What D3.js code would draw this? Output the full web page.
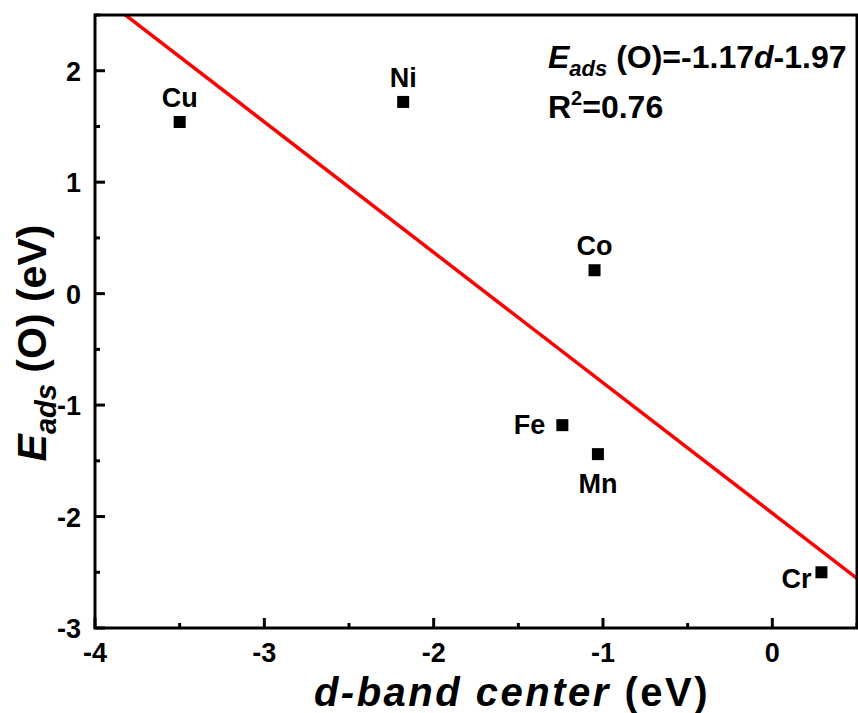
<!DOCTYPE html>
<html><head><meta charset="utf-8">
<script src="https://cdn.jsdelivr.net/npm/d3@7"></script>
<style>body{margin:0;background:#fff}svg text{font-family:"Liberation Sans",Arial,sans-serif;font-weight:700}</style>
</head><body><svg id="c" width="858" height="713"></svg>
<script>
const metals = ["Cu","Ni","Co","Fe","Mn","Cr"];
const dCenter = [-3.50,-2.18,-1.05,-1.24,-1.03,0.29];
const eads = [1.54,1.72,0.21,-1.18,-1.44,-2.50];
const labelSide = ["top","top","top","left","bottom","lowleft"];
const fitSlope = -1.17, fitIntercept = -1.97;
const xTicks = [-4,-3,-2,-1,0];
const yTicks = [-3,-2,-1,0,1,2];

const svg = d3.select("#c");
const m = {l:95,t:15,r:857,b:628};
const x = d3.scaleLinear().domain([-4,0.5]).range([m.l,m.r]);
const y = d3.scaleLinear().domain([-3,2.5]).range([m.b,m.t]);

const xMinor = d3.range(-4,0.51,0.5).filter(v=>!xTicks.includes(v));
const yMinor = d3.range(-3,2.51,0.5).filter(v=>!yTicks.includes(v));
const g = svg.append("g");
xTicks.forEach(v=>g.append("line").attr("x1",x(v)).attr("x2",x(v)).attr("y1",m.b).attr("y2",m.b-10).attr("stroke","#000").attr("stroke-width",3));
xMinor.forEach(v=>g.append("line").attr("x1",x(v)).attr("x2",x(v)).attr("y1",m.b).attr("y2",m.b-5).attr("stroke","#000").attr("stroke-width",3));
yTicks.forEach(v=>g.append("line").attr("y1",y(v)).attr("y2",y(v)).attr("x1",m.l).attr("x2",m.l+10).attr("stroke","#000").attr("stroke-width",3));
yMinor.forEach(v=>g.append("line").attr("y1",y(v)).attr("y2",y(v)).attr("x1",m.l).attr("x2",m.l+5).attr("stroke","#000").attr("stroke-width",3));

xTicks.forEach(v=>svg.append("text").attr("x",x(v)).attr("y",m.b+34).attr("text-anchor","middle").attr("font-size",27).attr("font-weight","bold").text(v));
yTicks.forEach(v=>svg.append("text").attr("x",m.l-14).attr("y",y(v)+10).attr("text-anchor","end").attr("font-size",27).attr("font-weight","bold").text(v));

svg.append("clipPath").attr("id","clip").append("rect").attr("x",m.l).attr("y",m.t).attr("width",m.r-m.l).attr("height",m.b-m.t);
const xs=x.domain();
svg.append("line").attr("clip-path","url(#clip)")
  .attr("x1",x(xs[0])).attr("y1",y(fitSlope*xs[0]+fitIntercept))
  .attr("x2",x(xs[1])).attr("y2",y(fitSlope*xs[1]+fitIntercept))
  .attr("stroke","#f00").attr("stroke-width",3.5);

svg.append("rect").attr("x",m.l).attr("y",m.t).attr("width",m.r-m.l).attr("height",m.b-m.t).attr("fill","none").attr("stroke","#000").attr("stroke-width",3);

const s=12;
const off = {top:[0,-15,"middle"], bottom:[0,39,"middle"], left:[-17,9,"end"], lowleft:[-10,16,"end"]};
metals.forEach((n,i)=>{
  const px=x(dCenter[i]), py=y(eads[i]);
  svg.append("rect").attr("x",px-s/2).attr("y",py-s/2).attr("width",s).attr("height",s).attr("fill","#000");
  const o=off[labelSide[i]];
  svg.append("text").attr("x",px+o[0]).attr("y",py+o[1]).attr("text-anchor",o[2]).attr("font-size",27).attr("font-weight","bold").text(n);
});

const a = svg.append("text").attr("x",548).attr("y",68).attr("font-size",32).attr("font-weight","bold");
a.append("tspan").attr("font-style","italic").text("E");
a.append("tspan").attr("font-style","italic").attr("font-size",22).attr("dy",8).text("ads");
a.append("tspan").attr("dy",-8).text(" (O)=-1.17");
a.append("tspan").attr("font-style","italic").text("d");
a.append("tspan").text("-1.97");
const r = svg.append("text").attr("x",548).attr("y",118).attr("font-size",32).attr("font-weight","bold");
r.append("tspan").text("R");
r.append("tspan").attr("font-size",20).attr("dy",-13).text("2");
r.append("tspan").attr("dy",13).text("=0.76");

const xt = svg.append("text").attr("x",512).attr("y",706).attr("text-anchor","middle").attr("font-size",40).attr("letter-spacing",2.5).attr("font-weight","bold");
xt.append("tspan").attr("font-style","italic").text("d-band center");
xt.append("tspan").text(" (eV)");
const yt = svg.append("text").attr("transform",`translate(46,343) rotate(-90)`).attr("text-anchor","middle").attr("font-size",41).attr("font-weight","bold");
yt.append("tspan").attr("font-style","italic").text("E");
yt.append("tspan").attr("font-style","italic").attr("font-size",29).attr("dy",10).text("ads");
yt.append("tspan").attr("dy",-10).text(" (O) (eV)");
</script></body></html>
